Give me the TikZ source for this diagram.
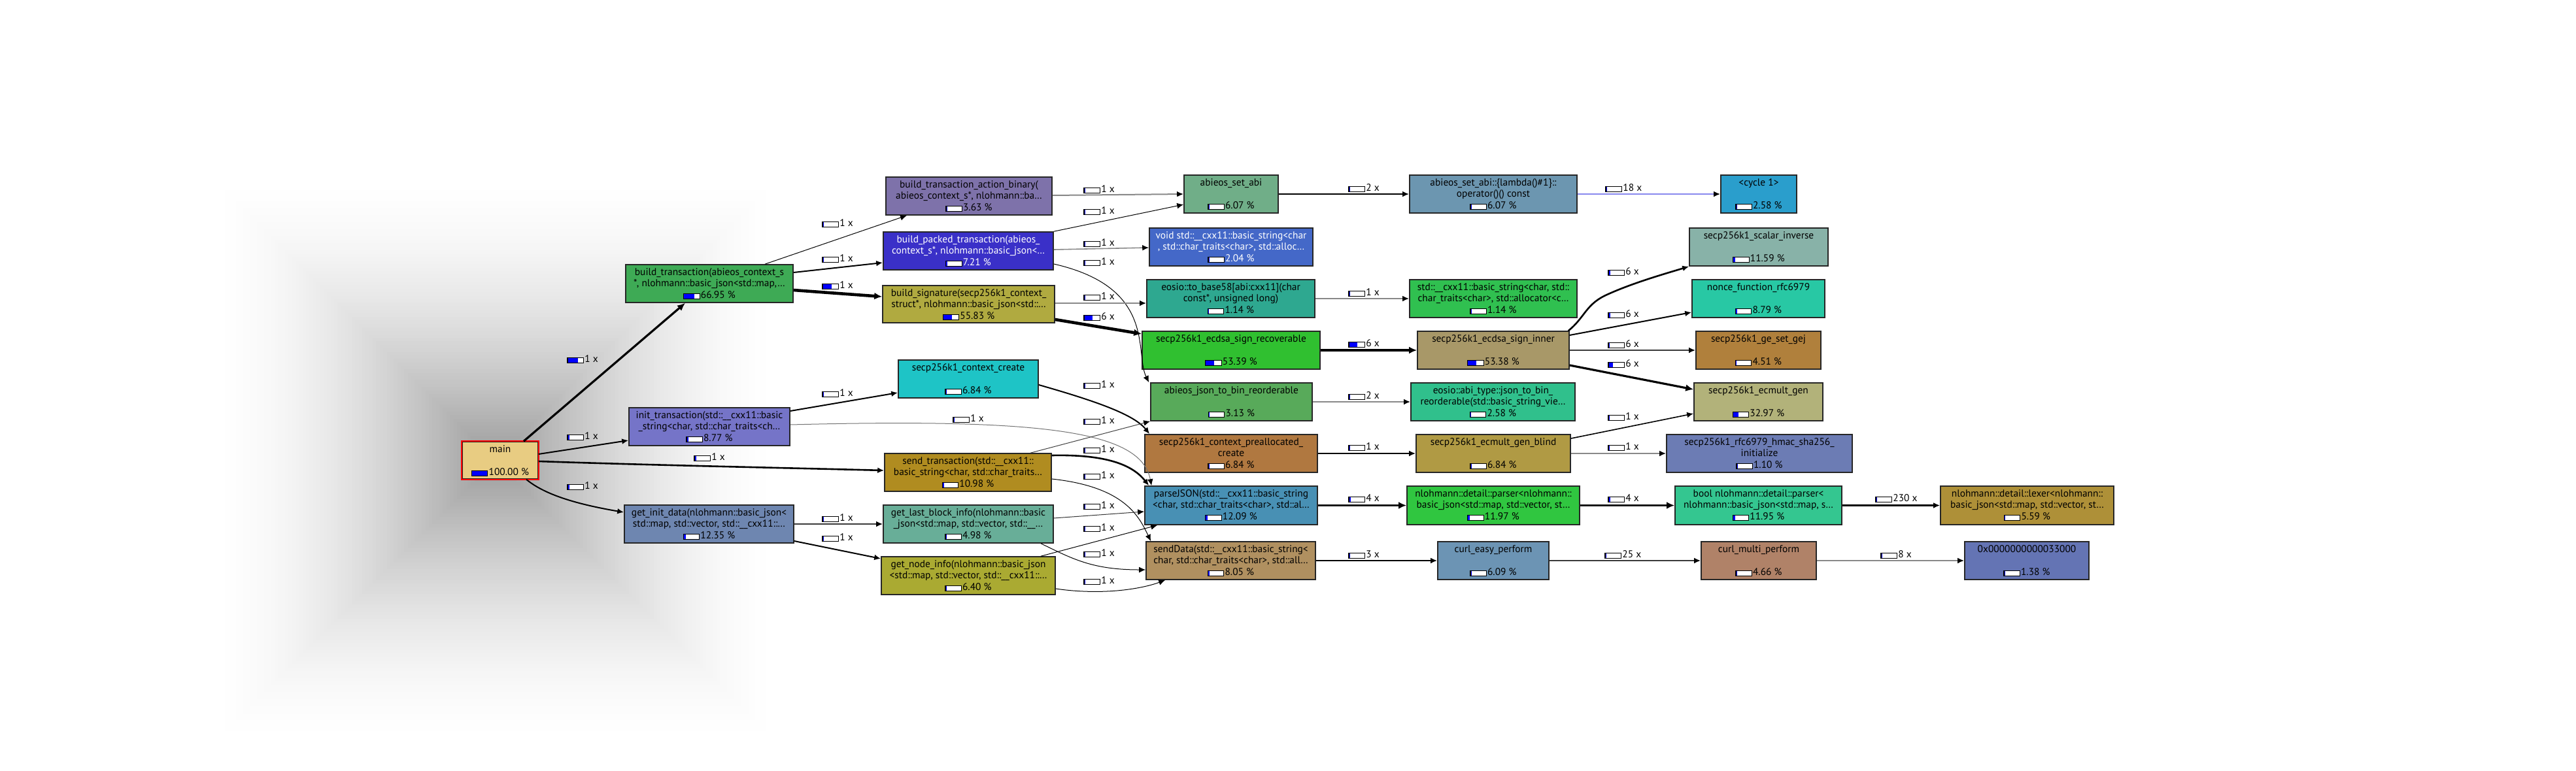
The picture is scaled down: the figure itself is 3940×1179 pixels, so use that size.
\documentclass[tikz,border=0pt]{standalone}
\usepackage{fontspec}
\setmainfont{PT Sans}
\usetikzlibrary{calc,fit,arrows.meta}
\definecolor{cmain}{HTML}{E8CC82}
\definecolor{cbt}{HTML}{3EAA55}
\definecolor{cbab}{HTML}{7E72AA}
\definecolor{cbpt}{HTML}{3A30C8}
\definecolor{cbs}{HTML}{B0AA40}
\definecolor{cccr}{HTML}{1EC4C6}
\definecolor{cit}{HTML}{7574C8}
\definecolor{cst}{HTML}{B08C20}
\definecolor{cgid}{HTML}{6E86B0}
\definecolor{cglb}{HTML}{68AE98}
\definecolor{cgni}{HTML}{AAAA32}
\definecolor{casa}{HTML}{70AE88}
\definecolor{cvbs}{HTML}{4468C8}
\definecolor{cbfe}{HTML}{2EA890}
\definecolor{cesr}{HTML}{30C030}
\definecolor{cajb}{HTML}{58AA5A}
\definecolor{ccpc}{HTML}{B07840}
\definecolor{cpj}{HTML}{4890B4}
\definecolor{csd}{HTML}{B09060}
\definecolor{clam}{HTML}{6C96B0}
\definecolor{ccyc}{HTML}{2A9ECC}
\definecolor{csbs}{HTML}{30C050}
\definecolor{cesi}{HTML}{A89868}
\definecolor{cajr}{HTML}{30C08C}
\definecolor{cegb}{HTML}{B09A44}
\definecolor{cnlp}{HTML}{30C640}
\definecolor{ccep}{HTML}{6C94B4}
\definecolor{csci}{HTML}{88B2A8}
\definecolor{cnfr}{HTML}{28C8A4}
\definecolor{cgsg}{HTML}{B0803C}
\definecolor{cemg}{HTML}{B2B27A}
\definecolor{crhi}{HTML}{6C7CB4}
\definecolor{cbnp}{HTML}{34C690}
\definecolor{clex}{HTML}{AE9038}
\definecolor{ccmp}{HTML}{B08268}
\definecolor{chex}{HTML}{6474B4}
\definecolor{egray}{HTML}{888888}
\definecolor{edark}{HTML}{3A3A3A}
\definecolor{ecyc}{HTML}{8888EE}
\newcommand\pbar[1]{{%
  \setlength{\fboxsep}{0pt}\setlength{\fboxrule}{0.55pt}%
  \pgfmathsetlengthmacro\pbw{#1*11.6pt}%
  \fcolorbox{black}{white}{\makebox[11.6pt][l]{\textcolor{blue}{\rule{\pbw}{3.6pt}}}}}}
\newcommand\fnode[9]{%
  \node[fnbox, fill=#4, fit={(#2) (#3)}] (#1) {};
  \node[fntext, text=#5] (#1-a) at ($(#1.north)+(0,17.7)$) {#6};
  \if\relax\detokenize{#7}\relax\else
  \node[fntext, text=#5] (#1-b) at ($(#1.north)+(0,34.4)$) {#7};\fi
  \node[fntext, text=#5] (#1-c) at ($(#1.north)+(0,52.7)$) {\pbar{#8}\hspace{0.6pt}#9\ \%};
}
\newcommand\elab[4]{\node[elab] (#1) at (#2) {\pbar{#3}\hspace{0.8pt}#4};}
\tikzset{
  fnbox/.style={draw=black!85, line width=0.8pt, inner sep=0pt},
  fntext/.style={anchor=base, inner sep=0pt, font=\fontsize{7.7}{9}\selectfont},
  elab/.style={anchor=west, inner sep=0pt, font=\fontsize{7.7}{9}\selectfont},
  tip/.style={-{Latex[length=5pt,width=4.4pt,color=black]}},
  tipb/.style={-{Latex[length=6pt,width=5.4pt,color=black]}},
  ea/.style={tip, line width=0.5pt},
  eb/.style={tip, line width=0.8pt},
  ec/.style={tip, line width=1pt},
  ed/.style={tip, line width=1.3pt},
  ee/.style={tipb, line width=1.6pt},
  ef/.style={tipb, line width=2.3pt},
}
\begin{document}
\begin{tikzpicture}[x=0.5pt,y=-0.5pt]
\fill[white] (0,0) rectangle (3940,1179);
\useasboundingbox (0,0) rectangle (3940,1179);
% background shading around main
\foreach \i in {0,...,80} {
  \pgfmathsetmacro\rr{435*(1-\i/81)}
  \pgfmathsetmacro\dd{40*(\i/81)^1.7}
  \fill[black!\dd] ($(758,705)+(-\rr,-\rr)$) rectangle ($(758,705)+(\rr,\rr)$);
}
% nodes
\fnode{main}{707,676}{823,733}{cmain}{black}{main}{}{1}{100.00}
\draw[red, line width=0.8pt] (main.north west) rectangle (main.south east);
\fnode{bt}{957,405}{1213,463}{cbt}{black}{build\_transaction(abieos\_context\_s}{*, nlohmann::basic\_json<std::map,…}{0.6695}{66.95}
\fnode{bab}{1355,271}{1609,329}{cbab}{black}{build\_transaction\_action\_binary(}{abieos\_context\_s*, nlohmann::ba…}{0.0363}{3.63}
\fnode{bpt}{1351,355}{1611,413}{cbpt}{white}{build\_packed\_transaction(abieos\_}{context\_s*, nlohmann::basic\_json<…}{0.0721}{7.21}
\fnode{bs}{1350,437}{1613,494}{cbs}{black}{build\_signature(secp256k1\_context\_}{struct*, nlohmann::basic\_json<std::…}{0.5583}{55.83}
\fnode{ccr}{1374,551}{1588,609}{cccr}{black}{secp256k1\_context\_create}{}{0.0684}{6.84}
\fnode{it}{962,624}{1208,682}{cit}{black}{init\_transaction(std::\_\_cxx11::basic}{\_string<char, std::char\_traits<ch…}{0.0877}{8.77}
\fnode{st}{1353,694}{1608,752}{cst}{black}{send\_transaction(std::\_\_cxx11::}{basic\_string<char, std::char\_traits…}{0.1098}{10.98}
\fnode{gid}{955,773}{1214,831}{cgid}{black}{get\_init\_data(nlohmann::basic\_json<}{std::map, std::vector, std::\_\_cxx11::…}{0.1235}{12.35}
\fnode{glb}{1351,773}{1611,831}{cglb}{black}{get\_last\_block\_info(nlohmann::basic}{\_json<std::map, std::vector, std::\_\_…}{0.0498}{4.98}
\fnode{gni}{1348,852}{1614,910}{cgni}{black}{get\_node\_info(nlohmann::basic\_json}{<std::map, std::vector, std::\_\_cxx11::…}{0.064}{6.40}
\fnode{asa}{1811,268}{1955,326}{casa}{black}{abieos\_set\_abi}{}{0.0607}{6.07}
\fnode{vbs}{1758,349}{2008,407}{cvbs}{white}{void std::\_\_cxx11::basic\_string<char}{, std::char\_traits<char>, std::alloc…}{0.0204}{2.04}
\fnode{bfe}{1754,428}{2011,486}{cbfe}{black}{eosio::to\_base58[abi:cxx11](char}{const*, unsigned long)}{0.0114}{1.14}
\fnode{esr}{1747,507}{2019,565}{cesr}{black}{secp256k1\_ecdsa\_sign\_recoverable}{}{0.5339}{53.39}
\fnode{ajb}{1760,586}{2007,644}{cajb}{black}{abieos\_json\_to\_bin\_reorderable}{}{0.0313}{3.13}
\fnode{cpc}{1751,665}{2015,723}{ccpc}{black}{secp256k1\_context\_preallocated\_}{create}{0.0684}{6.84}
\fnode{pj}{1751,744}{2015,803}{cpj}{black}{parseJSON(std::\_\_cxx11::basic\_string}{<char, std::char\_traits<char>, std::al…}{0.1209}{12.09}
\fnode{sd}{1753,829}{2012,887}{csd}{black}{sendData(std::\_\_cxx11::basic\_string<}{char, std::char\_traits<char>, std::all…}{0.0805}{8.05}
\fnode{lam}{2156,268}{2412,326}{clam}{black}{abieos\_set\_abi::\{lambda()\#1\}::}{operator()() const}{0.0607}{6.07}
\fnode{cyc}{2632,268}{2748,326}{ccyc}{black}{<cycle 1>}{}{0.0258}{2.58}
\fnode{sbs}{2156,428}{2412,486}{csbs}{black}{std::\_\_cxx11::basic\_string<char, std::}{char\_traits<char>, std::allocator<c…}{0.0114}{1.14}
\fnode{esi}{2168,507}{2400,565}{cesi}{black}{secp256k1\_ecdsa\_sign\_inner}{}{0.5338}{53.38}
\fnode{ajr}{2158,586}{2409,644}{cajr}{black}{eosio::abi\_type::json\_to\_bin\_}{reorderable(std::basic\_string\_vie…}{0.0258}{2.58}
\fnode{egb}{2166,665}{2402,723}{cegb}{black}{secp256k1\_ecmult\_gen\_blind}{}{0.0684}{6.84}
\fnode{nlp}{2152,744}{2416,803}{cnlp}{black}{nlohmann::detail::parser<nlohmann::}{basic\_json<std::map, std::vector, st…}{0.1197}{11.97}
\fnode{cep}{2199,829}{2369,887}{ccep}{black}{curl\_easy\_perform}{}{0.0609}{6.09}
\fnode{sci}{2584,349}{2796,407}{csci}{black}{secp256k1\_scalar\_inverse}{}{0.1159}{11.59}
\fnode{nfr}{2588,428}{2791,486}{cnfr}{black}{nonce\_function\_rfc6979}{}{0.0879}{8.79}
\fnode{gsg}{2594,507}{2785,565}{cgsg}{black}{secp256k1\_ge\_set\_gej}{}{0.0451}{4.51}
\fnode{emg}{2591,586}{2788,644}{cemg}{black}{secp256k1\_ecmult\_gen}{}{0.3297}{32.97}
\fnode{rhi}{2549,665}{2833,723}{crhi}{black}{secp256k1\_rfc6979\_hmac\_sha256\_}{initialize}{0.011}{1.10}
\fnode{bnp}{2562,744}{2817,803}{cbnp}{black}{bool nlohmann::detail::parser<}{nlohmann::basic\_json<std::map, s…}{0.1195}{11.95}
\fnode{lex}{2968,744}{3233,803}{clex}{black}{nlohmann::detail::lexer<nlohmann::}{basic\_json<std::map, std::vector, st…}{0.0559}{5.59}
\fnode{cmp}{2602,829}{2778,887}{ccmp}{black}{curl\_multi\_perform}{}{0.0466}{4.66}
\fnode{hex}{3005,829}{3195,887}{chex}{black}{0x0000000000033000}{}{0.0138}{1.38}
% edges
\draw[ee] ($(main.north)+(36,0)$) -- ($(bt.south)+(-37,0)$);
\draw[ec] ($(main.east)+(0,-9.5)$) -- ($(it.west)+(0,21)$);
\draw[ed] ($(main.east)+(0,1.5)$) .. controls (1000,712) and (1200,716) .. ($(st.west)+(0,-3)$);
\draw[ec] ($(main.south)+(40,0)$) .. controls (825,750) and (860,768) .. ($(gid.west)+(0,-18)$);
\draw[ea] ($(bt.north)+(85,0)$) -- ($(bab.south)+(-95,0)$);
\draw[ec] ($(bt.east)+(0,-17)$) -- ($(bpt.west)+(0,18)$);
\draw[ef] ($(bt.east)+(0,10)$) -- ($(bs.west)+(0,-11.5)$);
\draw[ec] ($(it.east)+(0,-24)$) -- ($(ccr.west)+(0,21)$);
\draw[ea, draw=black!55] ($(it.east)+(0,-3)$) .. controls (1600,640) and (1745,660) .. ($(pj.north west)+(11,0)$);
\draw[ec] ($(ccr.east)+(0,9)$) .. controls (1680,615) and (1735,635) .. ($(cpc.north west)+(8,0)$);
\draw[ec, draw=egray] ($(bab.east)+(0,-1)$) -- (asa.west);
\draw[ea] (bpt.north east) -- ($(asa.west)+(0,16)$);
\draw[eb, draw=egray] ($(bpt.east)+(0,-2)$) -- ($(vbs.west)+(0,1)$);
\draw[ea] ($(bpt.east)+(0,20)$) .. controls (1770,440) and (1735,540) .. ($(ajb.north west)+(-2,0)$);
\draw[ec, draw=egray] ($(bs.east)+(0,-1.5)$) -- ($(bfe.west)+(0,7)$);
\draw[ef] ($(bs.east)+(0,23.5)$) -- ($(esr.west)+(0,-25)$);
\draw[ea, draw=black!75] ($(st.north)+(95.5,0)$) -- (ajb.south west);
\draw[ed] ($(st.east)+(0,-26)$) .. controls (1700,695) and (1735,715) .. ($(pj.north west)+(7,0)$);
\draw[ea] ($(st.east)+(0,10)$) .. controls (1720,745) and (1742,790) .. ($(sd.north west)+(8,0)$);
\draw[ea, draw=black!80] ($(glb.east)+(0,-9)$) -- ($(pj.west)+(0,9.5)$);
\draw[ea] ($(gni.north)+(111,0)$) -- ($(pj.south west)+(20,0)$);
\draw[ea] ($(glb.south)+(111,0)$) .. controls (1640,855) and (1670,872) .. ($(sd.west)+(0,14)$);
\draw[ea] ($(gni.east)+(0,20)$) .. controls (1690,912) and (1750,900) .. ($(sd.south west)+(30,0)$);
\draw[ec, draw=edark] (gid.east) -- (glb.west);
\draw[ec] ($(gid.east)+(0,26)$) -- ($(gni.west)+(0,-26)$);
\draw[ed] (asa.east) -- (lam.west);
\draw[ec, draw=ecyc] (lam.east) -- (cyc.west);
\draw[ec, draw=egray] (bfe.east) -- (sbs.west);
\draw[ef] (esr.east) -- (esi.west);
\draw[ec, draw=egray] (ajb.east) -- (ajr.west);
\draw[ed] (cpc.east) -- (egb.west);
\draw[ee, draw=black!90] (pj.east) -- (nlp.west);
\draw[ec] (sd.east) -- (cep.west);
\draw[ed] ($(esi.north east)+(-2,0)$) .. controls (2425,485) and (2425,465) .. (2460,450) .. controls (2500,432) and (2550,418) .. (sci.south west);
\draw[ec] ($(esi.east)+(0,-23)$) -- ($(nfr.west)+(0,21)$);
\draw[ec, draw=edark] (esi.east) -- (gsg.west);
\draw[ee] ($(esi.east)+(0,23)$) -- ($(emg.west)+(0,-19)$);
\draw[eb] ($(egb.east)+(0,-23)$) -- ($(emg.west)+(0,18)$);
\draw[ec, draw=egray] (egb.east) -- (rhi.west);
\draw[ee, draw=black!90] (nlp.east) -- (bnp.west);
\draw[ec, draw=edark] (cep.east) -- (cmp.west);
\draw[ed] (bnp.east) -- (lex.west);
\draw[ec, draw=egray] (cmp.east) -- (hex.west);
% edge labels
\elab{l1}{867,550}{0.67}{1 x}
\elab{l2}{867,668}{0.088}{1 x}
\elab{l3}{1061,700}{0.11}{1 x}
\elab{l4}{867,744}{0.12}{1 x}
\elab{l5}{1257,342}{0.036}{1 x}
\elab{l6}{1257,396}{0.072}{1 x}
\elab{l7}{1257,437}{0.56}{1 x}
\elab{l8}{1257,602}{0.068}{1 x}
\elab{l9}{1457,641}{0.02}{1 x}
\elab{l10}{1657,290}{0.03}{1 x}
\elab{l11}{1657,323}{0.03}{1 x}
\elab{l12}{1657,372}{0.02}{1 x}
\elab{l13}{1657,401}{0.02}{1 x}
\elab{l14}{1657,454}{0.011}{1 x}
\elab{l15}{1657,485}{0.53}{6 x}
\elab{l16}{1657,589}{0.068}{1 x}
\elab{l17}{1657,644}{0.01}{1 x}
\elab{l18}{1657,688}{0.05}{1 x}
\elab{l19}{1657,728}{0.03}{1 x}
\elab{l20}{1657,774}{0.02}{1 x}
\elab{l21}{1657,808}{0.02}{1 x}
\elab{l22}{1657,847}{0.02}{1 x}
\elab{l23}{1657,889}{0.02}{1 x}
\elab{l24}{1257,793}{0.05}{1 x}
\elab{l25}{1257,823}{0.06}{1 x}
\elab{l26}{2062,288}{0.06}{2 x}
\elab{l27}{2455,288}{0.02}{18 x}
\elab{l28}{2062,448}{0.011}{1 x}
\elab{l29}{2062,526}{0.53}{6 x}
\elab{l30}{2062,606}{0.026}{2 x}
\elab{l31}{2062,684}{0.068}{1 x}
\elab{l32}{2062,763}{0.12}{4 x}
\elab{l33}{2062,849}{0.06}{3 x}
\elab{l34}{2459,416}{0.116}{6 x}
\elab{l35}{2459,481}{0.088}{6 x}
\elab{l36}{2459,527}{0.045}{6 x}
\elab{l37}{2459,557}{0.3}{6 x}
\elab{l38}{2459,638}{0.011}{1 x}
\elab{l39}{2459,684}{0.011}{1 x}
\elab{l40}{2459,763}{0.12}{4 x}
\elab{l41}{2454,849}{0.046}{25 x}
\elab{l42}{2868,763}{0.056}{230 x}
\elab{l43}{2876,849}{0.014}{8 x}
\end{tikzpicture}
\end{document}
